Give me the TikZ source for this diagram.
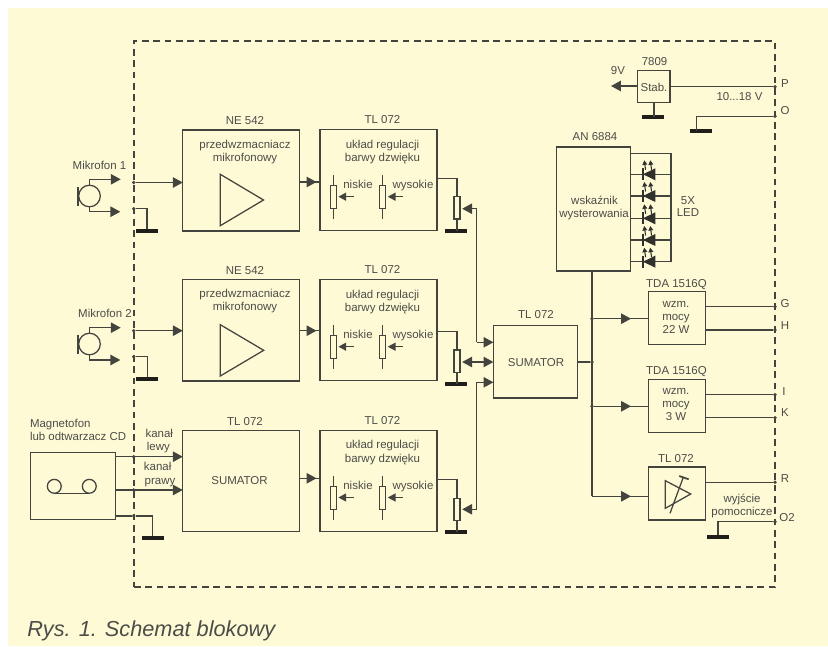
\documentclass[tikz,border=0pt]{standalone}
\usepackage{fontspec}
\setmainfont{Liberation Sans}
\usetikzlibrary{arrows.meta,calc}
\definecolor{bgc}{HTML}{FFFAD6}
\definecolor{inkc}{HTML}{44443F}
\definecolor{txtc}{HTML}{4C4C48}
\tikzset{
  boxwh/.style 2 args={minimum width=#1*.75pt,minimum height=#2*.75pt},
  box/.style={draw=inkc,line width=.95pt,inner sep=0pt,outer sep=0pt,rectangle},
  wire/.style={draw=inkc,line width=.95pt},
  headb/.tip={Triangle[length=7.4pt,width=7.8pt]},
  heads/.tip={Triangle[length=5.8pt,width=6pt]},
  arr/.style={wire,-headb},
  sarr/.style={wire,-heads},
  txt/.style={inner sep=0pt,outer sep=0pt,text=txtc,font=\fontsize{8.6}{10}\selectfont,text height=6.3pt,text depth=1.8pt},
  dot/.style={circle,fill=inkc,inner sep=0pt,minimum size=2.8pt,outer sep=0pt},
  gnd/.style={rectangle,fill=black!88!bgc,inner sep=0pt,outer sep=0pt,minimum width=16.5pt,minimum height=3pt},
  potr/.style={box,fill=bgc,minimum width=4.6pt,minimum height=17pt},
}
% tone-control block: name, top y
\newcommand{\tonebox}[2]{%
  \node[box,boxwh={117}{101}] (#1) at (378.5,#2+50.5) {};
  \node[txt] (#1l) at (382.5,#2-8.7) {TL 072};
  \node[txt] (#1a) at (382.5,#2+15.5) {układ regulacji};
  \node[txt] (#1b) at (382.5,#2+28.7) {barwy dzwięku};
  \node[txt] (#1n) at (358,#2+55.7) {niskie};
  \node[txt] (#1w) at (413,#2+55.7) {wysokie};
  \coordinate (#1pa) at (354,#2+67.2);
  \coordinate (#1qa) at (403,#2+67.2);
  \draw[wire] (333.3,#2+45.5) coordinate (#1pt) -- (333.3,#2+89.5) coordinate (#1pb);
  \draw[wire] (382.7,#2+45.5) coordinate (#1qt) -- (382.7,#2+89.5) coordinate (#1qb);
  \node[potr] (#1p) at (333.3,#2+67.5) {};
  \node[potr] (#1q) at (382.7,#2+67.5) {};
  \draw[sarr,shorten >=1.5pt] (#1pa) -- (#1p.east |- #1pa);
  \draw[sarr,shorten >=1.5pt] (#1qa) -- (#1q.east |- #1qa);
}
% output pot: name, source box, wire y, pot y, ground y
\newcommand{\outpot}[5]{%
  \coordinate (#1s) at (#2.east |- 0,#3);
  \node[gnd] (#1g) at (455.5,#5) {};
  \draw[wire] (#1s) -- (457,#3) -- (457,#5);
  \node[potr] (#1) at (457,#4) {};
}
% microphone: name, centre y, upper lead y, lower lead y
\newcommand{\mic}[4]{%
  \node[circle,draw=inkc,line width=.95pt,minimum size=16.2pt,inner sep=0pt,outer sep=0pt] (#1) at (89.5,#2) {};
  \draw[draw=inkc,line width=1.3pt] (78,#2-9.5) coordinate (#1x) -- (78,#2+9.5) coordinate (#1y);
  \coordinate (#1u) at (120.7,#3);
  \coordinate (#1d) at (120.3,#4);
  \draw[arr] (#1.north) |- (#1u);
  \draw[arr] (#1.south) |- (#1d);
}
% LED: name, y
\newcommand{\led}[2]{%
  \coordinate (#1e) at (vled |- 0,#2);
  \draw[wire] (an.east |- 0,#2) -- (#1e);
  \fill[inkc!70!black] (643,#2) -- (655.3,#2-6) -- (655.3,#2+6) -- cycle;
  \draw[draw=inkc!70!black,line width=1.3pt] (643.3,#2-6) -- (643.3,#2+6);
  \draw[draw=inkc!70!black,line width=.8pt,-{Triangle[length=3.4pt,width=3.6pt]}] (645.6,#2-4.5) -- (644.2,#2-14);
  \draw[draw=inkc!70!black,line width=.8pt,-{Triangle[length=3.4pt,width=3.6pt]}] (651.6,#2-4.5) -- (650.2,#2-14);
}
\begin{document}
\begin{tikzpicture}[x=.75pt,y=-.75pt]
\useasboundingbox (0,0) rectangle (828,646);
\fill[white] (0,0) rectangle (828,646);
\fill[bgc] (8,8) rectangle (828,645.5);
% frame
\node[draw=inkc,line width=.8pt,dash pattern=on 4.9pt off 3.6pt,inner sep=0pt,outer sep=0pt,boxwh={641}{546}] (frame) at (454.5,314) {};

% ---- microphone inputs
\node[txt] (m1t) at (99.5,166) {Mikrofon 1};
\node[txt] (m2t) at (105,314) {Mikrofon 2};
\mic{m1}{196}{179.3}{211.7}
\mic{m2}{344}{327.7}{360}

% ---- first column
\node[box,boxwh={116.5}{101}] (ne1) at (241,180.5) {};
\node[txt] (ne1l) at (245,121.5) {NE 542};
\node[txt] (ne1a) at (245,145) {przedwzmacniacz};
\node[txt] (ne1b) at (245,158) {mikrofonowy};
\draw[wire] (220.3,174.3) coordinate (t1a) -- (220.3,225.7) -- (263.5,200) -- cycle;

\node[box,boxwh={116.5}{101.5}] (ne2) at (241,330.2) {};
\node[txt] (ne2l) at (245,271.5) {NE 542};
\node[txt] (ne2a) at (245,294.5) {przedwzmacniacz};
\node[txt] (ne2b) at (245,307.5) {mikrofonowy};
\draw[wire] (220.3,324.7) coordinate (t2a) -- (220.3,376) -- (263.7,350.3) -- cycle;

\node[box,boxwh={116.5}{101}] (su1) at (241,480.8) {};
\node[txt] (su1l) at (245,422) {TL 072};
\node[txt] (su1a) at (239.5,481) {SUMATOR};

% ---- inputs to first column
\node[dot] (d1) at (133.7,182.5) {};
\node[dot] (d2) at (133.7,208.7) {};
\node[gnd] (g1) at (147,231) {};
\draw[arr] (d1) -- (d1 -| ne1.west);
\draw[wire] (d2) -| (g1);

\node[dot] (d3) at (133.7,330.7) {};
\node[dot] (d4) at (133.7,356.7) {};
\node[gnd] (g2) at (147.3,379.3) {};
\draw[arr] (d3) -- (d3 -| ne2.west);
\draw[wire] (d4) -| (g2);

% ---- tape recorder
\node[txt,anchor=west] (tpa) at (30,424) {Magnetofon};
\node[txt,anchor=west] (tpb) at (30,437) {lub odtwarzacz CD};
\node[box,boxwh={85}{66.6}] (tape) at (72.8,486) {};
\node[circle,draw=inkc,line width=.95pt,minimum size=10.4pt,inner sep=0pt,outer sep=0pt] (wh1) at (54.3,486.3) {};
\node[circle,draw=inkc,line width=.95pt,minimum size=10.4pt,inner sep=0pt,outer sep=0pt] (wh2) at (89.3,486.3) {};
\draw[wire] (wh1.south) -- (wh2.south);
\node[dot] (d5) at (133.7,456.7) {};
\node[dot] (d6) at (133.7,490) {};
\node[dot] (d7) at (133.7,516) {};
\node[gnd] (g3) at (152.5,538) {};
\draw[arr] (tape.east |- d5) -- (d5 -| su1.west);
\draw[arr] (tape.east |- d6) -- (d6 -| su1.west);
\draw[wire] (tape.east |- d7) -- (d7) -| (g3);
\node[txt] (k1a) at (159.3,434) {kanał};
\node[txt] (k1b) at (158.3,447.5) {lewy};
\node[txt] (k2a) at (157.7,467) {kanał};
\node[txt] (k2b) at (160,481) {prawy};

% ---- tone control
\tonebox{tl1}{129.5}
\tonebox{tl2}{279.5}
\tonebox{tl3}{430.3}
\coordinate (a1) at (316.5,182);
\coordinate (a2) at (316.5,330.7);
\coordinate (a3) at (316.5,478.3);
\draw[wire] (ne1.east |- a1) -- (tl1.west |- a1);
\draw[wire] (ne2.east |- a2) -- (tl2.west |- a2);
\draw[wire] (su1.east |- a3) -- (tl3.west |- a3);
\draw[arr] (ne1.east |- a1) -- (a1);
\draw[arr] (ne2.east |- a2) -- (a2);
\draw[arr] (su1.east |- a3) -- (a3);

% ---- output pots
\outpot{p1}{tl1}{178.7}{207.7}{230.5}
\outpot{p2}{tl2}{331.7}{361.3}{383.7}
\outpot{p3}{tl3}{479.7}{509.5}{531.7}

% ---- summing amplifier
\node[box,boxwh={84}{72.7}] (sum) at (535.4,361.7) {};
\node[txt] (suml) at (536,315.3) {TL 072};
\node[txt] (suma) at (536,363) {SUMATOR};
\coordinate (s1) at (476.7,342.3);
\coordinate (s3) at (476.7,382.3);
\coordinate (c1) at (476.7,208.7);
\coordinate (c3) at (476.7,509.3);
\draw[wire,headb-,shorten <=1.6pt] (p1.east |- c1) -- (c1) -- (s1);
\draw[arr] (s1) -- (s1 -| sum.west);
\draw[wire,headb-,shorten <=1.6pt] (p3.east |- c3) -- (c3) -- (s3);
\draw[arr] (s3) -- (s3 -| sum.west);
\coordinate (s2) at (470,362);
\draw[wire,headb-headb,shorten <=1.6pt] (p2.east |- s2) -- (s2 -| sum.west);

% ---- bus
\node[box,boxwh={73.6}{124}] (an) at (593.5,209) {};
\node[txt] (anl) at (595,137.5) {AN 6884};
\node[txt] (ana) at (594.5,201) {wskaźnik};
\node[txt] (anb) at (594,214) {wysterowania};
\node[dot] (b1) at (592,318.7) {};
\node[dot] (b2) at (592,362) {};
\node[dot] (b3) at (592,406.3) {};
\coordinate (b4) at (592,496.3);
\draw[wire] (an.south -| b1) -- (b4);
\draw[wire] (sum.east |- b2) -- (b2);

% ---- LEDs
\coordinate (vled) at (671,153.7);
\draw[wire] (an.east |- vled) -- (vled) -- (671,261.7);
\led{l1}{174.3}
\led{l2}{196}
\led{l3}{218.3}
\led{l4}{240}
\led{l5}{261.7}
\node[txt] (leda) at (688,201) {5X};
\node[txt] (ledb) at (688,213.5) {LED};

% ---- stabiliser
\node[box,boxwh={32.3}{31.6}] (stab) at (653.9,86.5) {};
\node[txt] (stl) at (654.5,62.5) {7809};
\node[txt] (sta) at (654,88) {Stab.};
\node[txt] (v9) at (618,71) {9V};
\coordinate (v9a) at (611,86);
\draw[arr] (stab.west |- v9a) -- (v9a);
\node[gnd] (g4) at (653,116.5) {};
\draw[wire] (stab.south) -- (stab.south |- g4);
\node[dot] (dp) at (775,86.7) {};
\node[dot] (do) at (775,116.3) {};
\node[gnd] (g5) at (701,131.3) {};
\draw[wire] (stab.east |- dp) -- (dp);
\draw[wire] (do) -- (696.7,116.3) -- (696.7,131.3);
\node[txt] (vr) at (739.5,97) {10...18 V};
\node[txt] (lp) at (785,84) {P};
\node[txt] (lo) at (785,111.5) {O};

% ---- power amps
\node[box,boxwh={57.4}{52.6}] (w1) at (677,318) {};
\node[txt] (w1l) at (676.5,284) {TDA 1516Q};
\node[txt] (w1a) at (676,304) {wzm.};
\node[txt] (w1b) at (676,317) {mocy};
\node[txt] (w1c) at (676,330) {22 W};
\node[box,boxwh={57.4}{53}] (w2) at (677,405.8) {};
\node[txt] (w2l) at (676.5,371) {TDA 1516Q};
\node[txt] (w2a) at (676,391) {wzm.};
\node[txt] (w2b) at (676,404.5) {mocy};
\node[txt] (w2c) at (676,417) {3 W};
\node[box,boxwh={57.4}{53}] (w3) at (677,493.5) {};
\node[txt] (w3l) at (676,459) {TL 072};
\draw[wire] (665.3,480.7) -- (665.3,508.3) -- (690.7,494) -- cycle;
\draw[wire] (670,513.3) -- (683.3,477.3);
\draw[draw=inkc,line width=1.3pt] (679.3,476) -- (688.7,479.3);
\coordinate (t1) at (631,318.7);
\coordinate (t2) at (631,406.3);
\coordinate (t3) at (631,496.3);
\draw[wire] (b1) -- (b1 -| w1.west);
\draw[wire] (b3) -- (b3 -| w2.west);
\draw[wire] (b4) -- (b4 -| w3.west);
\draw[arr] (b1) -- (t1);
\draw[arr] (b3) -- (t2);
\draw[arr] (b4) -- (t3);

% ---- outputs
\node[dot] (dg) at (775,306.7) {};
\node[dot] (dh) at (775,330) {};
\node[dot] (di) at (775,394.7) {};
\node[dot] (dk) at (775,417.7) {};
\node[dot] (dr) at (775,482.3) {};
\node[dot] (dq) at (775,521.7) {};
\node[gnd] (g6) at (718,536.7) {};
\draw[wire] (w1.east |- dg) -- (dg);
\draw[wire] (w1.east |- dh) -- (dh);
\draw[wire] (w2.east |- di) -- (di);
\draw[wire] (w2.east |- dk) -- (dk);
\draw[wire] (w3.east |- dr) -- (dr);
\draw[wire] (dq) -| (g6);
\node[txt] (lg) at (785,304) {G};
\node[txt] (lh) at (785,326) {H};
\node[txt] (li) at (784,392) {I};
\node[txt] (lk) at (785,413) {K};
\node[txt] (lr) at (785,479) {R};
\node[txt] (lq) at (787,518.5) {O2};
\node[txt] (wa) at (742,499) {wyjście};
\node[txt] (wb) at (742,512.5) {pomocnicze};

% ---- caption
\node[inner sep=0pt,text=txtc,anchor=base west,font=\fontsize{16.3}{20}\selectfont\itshape] (cap) at (27,636) {Rys. 1. Schemat blokowy};
\end{tikzpicture}
\end{document}
